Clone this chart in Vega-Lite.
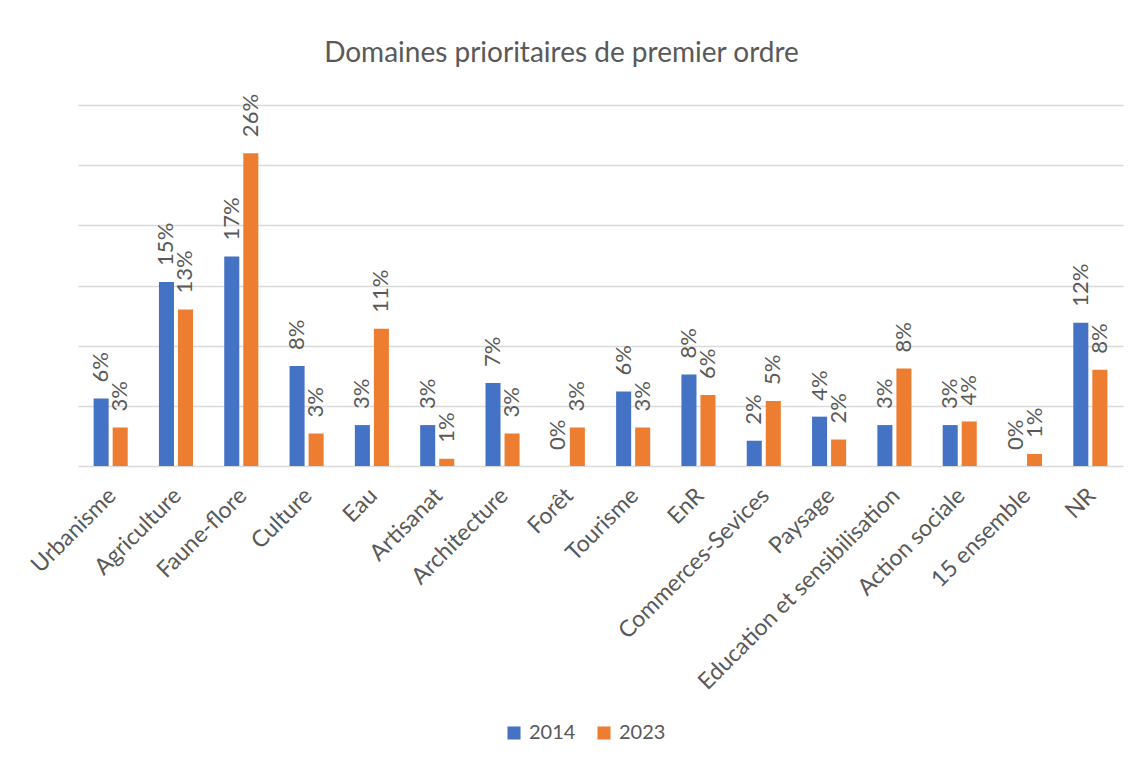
{
  "$schema": "https://vega.github.io/schema/vega-lite/v6.json",
  "autosize": {"type": "none"},
  "width": 1045,
  "height": 361,
  "padding": {"left": 78, "top": 105, "right": 14, "bottom": 294},
  "background": "white",
  "title": {
    "text": "Domaines prioritaires de premier ordre",
    "fontSize": 28,
    "font": "Lato",
    "fontWeight": "normal",
    "color": "#595959",
    "offset": 26,
    "dx": -39
  },
  "data": {
    "values": [
      {"domaine": "Urbanisme", "annee": "2014", "part": 0.056},
      {"domaine": "Urbanisme", "annee": "2023", "part": 0.032},
      {"domaine": "Agriculture", "annee": "2014", "part": 0.153},
      {"domaine": "Agriculture", "annee": "2023", "part": 0.130},
      {"domaine": "Faune-flore", "annee": "2014", "part": 0.174},
      {"domaine": "Faune-flore", "annee": "2023", "part": 0.260},
      {"domaine": "Culture", "annee": "2014", "part": 0.083},
      {"domaine": "Culture", "annee": "2023", "part": 0.027},
      {"domaine": "Eau", "annee": "2014", "part": 0.034},
      {"domaine": "Eau", "annee": "2023", "part": 0.114},
      {"domaine": "Artisanat", "annee": "2014", "part": 0.034},
      {"domaine": "Artisanat", "annee": "2023", "part": 0.006},
      {"domaine": "Architecture", "annee": "2014", "part": 0.069},
      {"domaine": "Architecture", "annee": "2023", "part": 0.027},
      {"domaine": "Forêt", "annee": "2014", "part": 0.0},
      {"domaine": "Forêt", "annee": "2023", "part": 0.032},
      {"domaine": "Tourisme", "annee": "2014", "part": 0.062},
      {"domaine": "Tourisme", "annee": "2023", "part": 0.032},
      {"domaine": "EnR", "annee": "2014", "part": 0.076},
      {"domaine": "EnR", "annee": "2023", "part": 0.059},
      {"domaine": "Commerces-Sevices", "annee": "2014", "part": 0.021},
      {"domaine": "Commerces-Sevices", "annee": "2023", "part": 0.054},
      {"domaine": "Paysage", "annee": "2014", "part": 0.041},
      {"domaine": "Paysage", "annee": "2023", "part": 0.022},
      {"domaine": "Education et sensibilisation", "annee": "2014", "part": 0.034},
      {"domaine": "Education et sensibilisation", "annee": "2023", "part": 0.081},
      {"domaine": "Action sociale", "annee": "2014", "part": 0.034},
      {"domaine": "Action sociale", "annee": "2023", "part": 0.037},
      {"domaine": "15 ensemble", "annee": "2014", "part": 0.0},
      {"domaine": "15 ensemble", "annee": "2023", "part": 0.010},
      {"domaine": "NR", "annee": "2014", "part": 0.119},
      {"domaine": "NR", "annee": "2023", "part": 0.080}
    ]
  },
  "encoding": {
    "x": {
      "field": "domaine",
      "type": "nominal",
      "sort": null,
      "scale": {"paddingInner": 0, "paddingOuter": 0},
      "axis": {
        "title": null,
        "labelAngle": -45,
        "labelAlign": "right",
        "labelBaseline": "top",
        "labelFontSize": 23,
        "labelFont": "Lato",
        "labelColor": "#595959",
        "labelPadding": 18,
        "labelOffset": -6,
        "labelLimit": 0,
        "labelOverlap": false,
        "ticks": false,
        "domain": false,
        "grid": false
      }
    },
    "xOffset": {
      "field": "annee",
      "type": "nominal",
      "scale": {"paddingInner": 0.21, "paddingOuter": 0.82}
    },
    "y": {
      "field": "part",
      "type": "quantitative",
      "scale": {"domain": [0, 0.3], "nice": false},
      "axis": {
        "title": null,
        "labels": false,
        "ticks": false,
        "domain": false,
        "grid": true,
        "gridColor": "#d9d9d9",
        "gridWidth": 1.3,
        "values": [0, 0.05, 0.1, 0.15, 0.2, 0.25, 0.3]
      }
    }
  },
  "layer": [
    {
      "mark": {"type": "bar"},
      "encoding": {
        "color": {
          "field": "annee",
          "type": "nominal",
          "scale": {"domain": ["2014", "2023"], "range": ["#4472C4", "#ED7D31"]},
          "legend": {
            "title": null,
            "orient": "none",
            "legendX": 426,
            "legendY": 618,
            "padding": 0,
            "direction": "horizontal",
            "symbolType": "square",
            "symbolSize": 170,
            "symbolStrokeWidth": 0,
            "labelFontSize": 20,
            "labelFont": "Lato",
            "labelColor": "#595959",
            "labelOffset": 5,
            "columnPadding": 18
          }
        }
      }
    },
    {
      "mark": {
        "type": "text",
        "angle": 270,
        "align": "left",
        "baseline": "middle",
        "dx": 16,
        "fontSize": 22,
        "font": "Lato",
        "color": "#595959"
      },
      "encoding": {
        "text": {"field": "part", "type": "quantitative", "format": ".0%"}
      }
    }
  ],
  "config": {
    "view": {"stroke": null}
  }
}
